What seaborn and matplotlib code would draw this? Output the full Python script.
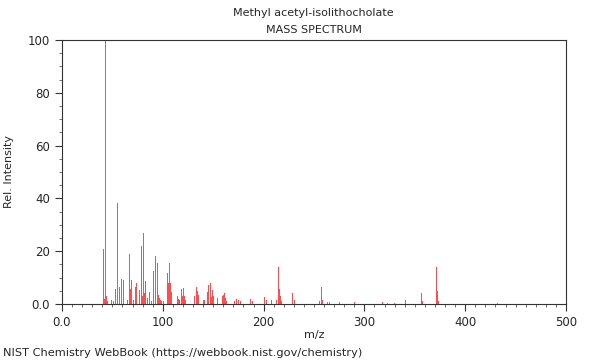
import numpy as np
import pandas as pd
import seaborn as sns
import matplotlib.pyplot as plt
from matplotlib.ticker import MultipleLocator, FixedLocator, FixedFormatter

# peak list (m/z, relative intensity)
mz = [41, 42, 43, 44, 45, 49, 51, 53, 55, 57, 59, 61, 65, 67, 68, 69, 71, 73, 74,
      77, 79, 80, 81, 82, 83, 85, 87, 89, 91, 93, 95, 96, 97, 98, 99, 101,
      105, 106, 107, 108, 109, 115, 116, 117, 119, 120, 121, 122, 123,
      131, 133, 134, 135, 140, 141, 144, 145, 147, 148, 149, 150, 154,
      159, 160, 161, 162, 163, 171, 173, 175, 177, 187, 189, 201, 203, 208,
      213, 215, 216, 217, 218, 229, 231, 255, 257, 258, 263, 265, 275, 290,
      318, 323, 330, 341, 357, 358, 372, 373, 374, 432]
intensity = [20.7, 2.0, 100, 3.0, 1.2, 1.5, 1.0, 5.7, 38.4, 6.4, 9.3, 9.1, 1.5, 19.0, 5.8, 9.1, 1.5, 6.4, 7.8,
             5.4, 21.8, 3.0, 27.0, 4.0, 8.6, 2.4, 4.4, 1.0, 12.4, 18.1, 15.5, 3.5, 2.2, 1.5, 1.2, 1.0,
             11.6, 8.0, 15.4, 7.8, 4.5, 3.0, 2.0, 1.5, 5.7, 3.0, 5.9, 3.0, 1.5,
             3.0, 6.6, 5.1, 3.4, 1.6, 1.6, 4.7, 7.2, 7.8, 2.5, 5.3, 3.0, 2.2,
             3.0, 3.5, 4.2, 2.2, 1.2, 1.0, 2.0, 1.6, 1.0, 1.8, 1.0, 2.7, 1.5, 1.5,
             1.5, 13.9, 5.8, 2.9, 1.0, 4.2, 1.5, 1.0, 6.4, 1.5, 0.6, 0.6, 0.9, 0.8,
             0.8, 0.5, 0.4, 1.5, 4.3, 1.3, 14.1, 4.9, 1.2, 0.4]

x_ticks = [0, 100, 200, 300, 400, 500]
x_labels = ["0.0", "100", "200", "300", "400", "500"]
y_ticks = [0, 20, 40, 60, 80, 100]
y_labels = ["0.0", "20", "40", "60", "80", "100"]

df = pd.DataFrame({"mz": mz, "intensity": intensity})

sns.set_style("ticks")
plt.rcParams['font.family'] = ['DejaVu Sans']

fig = plt.figure(figsize=(6, 3.6), dpi=100)
ax = fig.add_axes([0.1033, 0.1556, 0.84, 0.7333])

sns.histplot(data=df, x="mz", weights="intensity", discrete=True,
             color="#ff2020", alpha=0.8, linewidth=0, ax=ax)

ax.set_xlim(0, 500)
ax.set_ylim(0, 100)
ax.xaxis.set_major_locator(FixedLocator(x_ticks))
ax.xaxis.set_major_formatter(FixedFormatter(x_labels))
ax.yaxis.set_major_locator(FixedLocator(y_ticks))
ax.yaxis.set_major_formatter(FixedFormatter(y_labels))
ax.xaxis.set_minor_locator(MultipleLocator(10))
ax.yaxis.set_minor_locator(MultipleLocator(5))
ax.tick_params(which="major", length=5, width=0.8, labelsize=8.5, color="#333333")
ax.tick_params(which="minor", length=2.5, width=0.6, color="#555555")

for s in ax.spines.values():
    s.set_visible(True)
    s.set_linewidth(0.8)
    s.set_color("#333333")

ax.set_xlabel("m/z", fontsize=8, labelpad=1)
ax.set_ylabel("Rel. Intensity", fontsize=8, labelpad=10)

fig.text(0.523, 0.963, "Methyl acetyl-isolithocholate", ha="center", va="center", fontsize=8)
fig.text(0.523, 0.917, "MASS SPECTRUM", ha="center", va="center", fontsize=8)
fig.text(0.005, 0.02, "NIST Chemistry WebBook (https://webbook.nist.gov/chemistry)",
         ha="left", va="center", fontsize=8.2)

fig.savefig("out.png", dpi=100)
